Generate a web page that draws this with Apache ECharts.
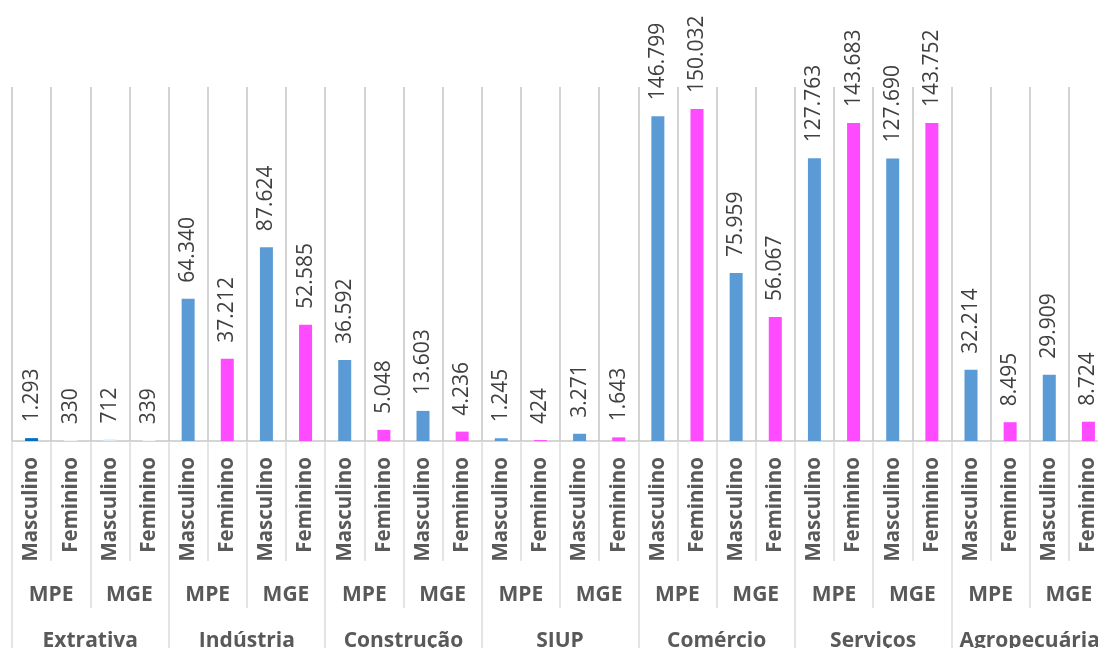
<!DOCTYPE html>
<html>
<head>
<meta charset="utf-8">
<script src="https://cdn.jsdelivr.net/npm/echarts@6/dist/echarts.min.js"></script>
<style>
  html, body { margin: 0; padding: 0; background: #fff; }
  #chart { width: 1098px; height: 648px; }
</style>
</head>
<body>
<div id="chart"></div>
<script>
// Employment by sector, company size and gender
const sectors = ['Extrativa', 'Indústria', 'Construção', 'SIUP', 'Comércio', 'Serviços', 'Agropecuária'];
const sizes = ['MPE', 'MGE'];
const genders = ['Masculino', 'Feminino'];

const mpeMasculino = [1293, 64340, 36592, 1245, 146799, 127763, 32214];
const mpeFeminino  = [330, 37212, 5048, 424, 150032, 143683, 8495];
const mgeMasculino = [712, 87624, 13603, 3271, 75959, 127690, 29909];
const mgeFeminino  = [339, 52585, 4236, 1643, 56067, 143752, 8724];

const BLUE = '#5B9BD5';
const PINK = '#FF4BFF';
const FONT = '"Open Sans", "Liberation Sans", sans-serif';

// Flatten into leaf categories: sector > size > gender
const genderLabels = [];
const sizeLabels = [];
const values = [];
sectors.forEach((s, i) => {
  const bySize = [[mpeMasculino[i], mpeFeminino[i]], [mgeMasculino[i], mgeFeminino[i]]];
  sizes.forEach((z, j) => {
    sizeLabels.push(z);
    genders.forEach((g, k) => {
      genderLabels.push(g);
      values.push(bySize[j][k]);
    });
  });
});

// Extrativa bars use their own shades
const colorOverrides = { 0: '#0070C0', 1: '#FFFFFF', 2: '#DDEBF7', 3: '#FFFFFF' };

const barData = values.map((v, idx) => ({
  value: v,
  itemStyle: { color: colorOverrides[idx] || (idx % 2 === 0 ? BLUE : PINK) }
}));

const fmt = v => String(v).replace(/\B(?=(\d{3})+(?!\d))/g, '.');

const catLabel = {
  interval: 0,
  color: '#595959',
  fontFamily: FONT,
  fontWeight: 'bold',
  fontSize: 21
};

const chart = echarts.init(document.getElementById('chart'), null, { renderer: 'canvas' });
chart.setOption({
  animation: false,
  backgroundColor: '#ffffff',
  grid: { left: 12, top: 87, bottom: 207, width: 1096, containLabel: false, outerBoundsMode: 'none' },
  xAxis: [
    {
      type: 'category',
      data: genderLabels,
      position: 'bottom',
      axisLine: { show: true, lineStyle: { color: '#C8C8C8', width: 1.5 } },
      axisTick: { show: true, interval: 0, length: 120, lineStyle: { color: '#DCDCDC', width: 1.5 } },
      splitLine: { show: true, interval: 0, lineStyle: { color: '#C4C4C4', width: 1.5 } },
      axisLabel: Object.assign({}, catLabel, { rotate: 90, margin: 16, fontSize: 20.5 })
    },
    {
      type: 'category',
      data: sizeLabels,
      position: 'bottom',
      axisLine: { show: false },
      axisTick: { show: true, interval: 0, length: 167, lineStyle: { color: '#DCDCDC', width: 1.5 } },
      splitLine: { show: false },
      axisLabel: Object.assign({}, catLabel, { margin: 144 })
    },
    {
      type: 'category',
      data: sectors,
      position: 'bottom',
      axisLine: { show: false },
      axisTick: { show: true, interval: 0, length: 215, lineStyle: { color: '#DCDCDC', width: 1.5 } },
      splitLine: { show: false },
      axisLabel: Object.assign({}, catLabel, { margin: 190 })
    }
  ],
  yAxis: {
    type: 'value',
    min: 0,
    max: 160000,
    show: false,
    splitLine: { show: false }
  },
  series: [
    {
      type: 'bar',
      xAxisIndex: 0,
      data: barData,
      barWidth: 13,
      label: {
        show: true,
        position: 'top',
        rotate: 90,
        align: 'left',
        verticalAlign: 'middle',
        distance: 16,
        color: '#404040',
        fontFamily: FONT,
        fontSize: 21,
        formatter: p => fmt(p.value)
      }
    }
  ]
});
</script>
</body>
</html>
